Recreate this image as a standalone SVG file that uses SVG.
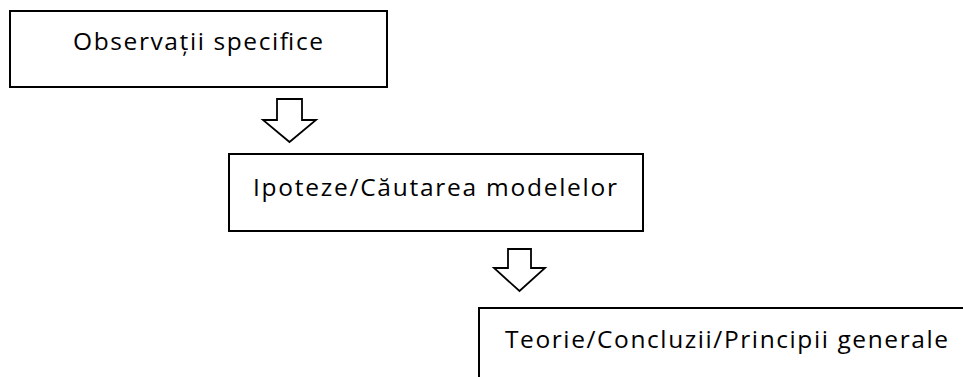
<svg xmlns="http://www.w3.org/2000/svg" width="963" height="377" viewBox="0 0 963 377">
<style>
.box{fill:#fff;stroke:#000;stroke-width:2}
.arrow{fill:#fff;stroke:#000;stroke-width:1.8;stroke-linejoin:miter}
.lbl{font-family:"Open Sans",Lato,sans-serif;font-size:24.5px;fill:#000}
</style>
<rect width="963" height="377" fill="#fff"/>
<g id="connectors">
<path class="arrow" d="M277,99 H302 V120 H316 L289.5,142 L263,120 H277 Z"/>
<path class="arrow" d="M508,249 H531 V268 H545 L519.5,291 L494,268 H508 Z"/>
</g>
<g id="node1">
<rect class="box" x="10" y="11" width="377" height="76"/>
<text class="lbl" x="73" y="50" textLength="250">Observații specifice</text>
</g>
<g id="node2">
<rect class="box" x="229" y="154" width="414" height="77"/>
<text class="lbl" x="253" y="196" textLength="364">Ipoteze/Căutarea modelelor</text>
</g>
<g id="node3">
<rect class="box" x="479" y="308" width="520" height="100"/>
<text class="lbl" x="505" y="348" textLength="443">Teorie/Concluzii/Principii generale</text>
</g>
</svg>
